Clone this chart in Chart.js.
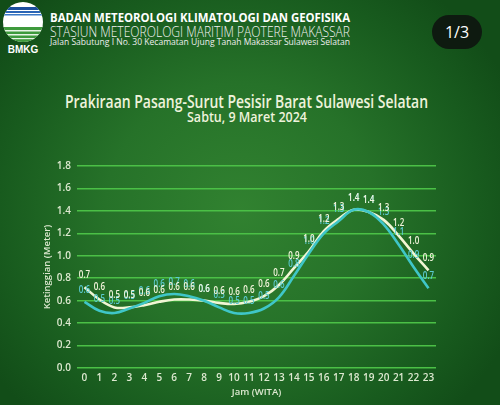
<!DOCTYPE html>
<html>
<head>
<meta charset="utf-8">
<script src="https://cdn.jsdelivr.net/npm/chart.js@4.4.1/dist/chart.umd.min.js"></script>
<style>
  html, body { margin: 0; padding: 0; }
  body {
    width: 500px; height: 405px; overflow: hidden; position: relative;
    background: radial-gradient(ellipse 60% 70% at 48% 52%, #318230 0%, #267229 45%, #185b1e 80%, #124d18 100%);
    font-family: "Open Sans", sans-serif;
  }
  .t { position: absolute; white-space: nowrap; transform-origin: 0 50%; line-height: 1; }
  #c { position: absolute; left: 0; top: 0; }
  #badge {
    position: absolute; left: 432px; top: 15px; width: 50px; height: 34px;
    border-radius: 17px; background: #0e1a10; color: #fff;
    font: 500 16px "Open Sans", sans-serif; display: flex; align-items: center; justify-content: center;
  }
</style>
</head>
<body>
<svg style="position:absolute;left:0;top:0" width="50" height="56">
  <defs><clipPath id="cp"><circle cx="23" cy="22" r="20"/></clipPath></defs>
  <g clip-path="url(#cp)">
    <rect x="0" y="0" width="50" height="50" fill="#ffffff"/>
    <rect x="0" y="7" width="50" height="3" fill="#1b4f9c"/>
    <rect x="0" y="11" width="50" height="2" fill="#2a64b5"/>
    <rect x="0" y="14" width="50" height="1.5" fill="#3a78c5"/>
    <rect x="0" y="26" width="50" height="20" fill="#3e9a3c"/>
    <path d="M3 26 Q12 21 20 25 Q28 21 43 26 L43 27 L3 27 Z" fill="#ffffff"/>
    <rect x="0" y="30" width="50" height="1.5" fill="#e8f4e6"/>
    <rect x="0" y="34" width="50" height="1.5" fill="#e8f4e6"/>
    <rect x="0" y="38" width="50" height="1.2" fill="#e8f4e6"/>
  </g>
  <text x="23" y="53" text-anchor="middle" font-family="Liberation Sans, Arial" font-weight="bold" font-size="10" fill="#ffffff">BMKG</text>
</svg>

<div class="t fit" data-w="300" style="left:50px;top:9px;font:700 12.5px 'Open Sans';color:#ffffff;">BADAN METEOROLOGI KLIMATOLOGI DAN GEOFISIKA</div>
<div class="t fit" data-w="300" style="left:50px;top:22px;font:300 14px 'Open Sans';color:#f2f2f2;">STASIUN METEOROLOGI MARITIM PAOTERE MAKASSAR</div>
<div class="t fit" data-w="300" style="left:50px;top:35px;font:400 9.5px 'Open Sans';color:#eeeeee;">Jalan Sabutung I No. 30 Kecamatan Ujung Tanah Makassar Sulawesi Selatan</div>
<div id="badge">1/3</div>

<div class="t fit" data-w="363" style="left:65px;top:89px;font:600 17.5px 'Open Sans';color:#eef3dc;">Prakiraan Pasang-Surut Pesisir Barat Sulawesi Selatan</div>
<div class="t fit" data-w="120" style="left:187px;top:107px;font:600 14px 'Open Sans';color:#eef3dc;">Sabtu, 9 Maret 2024</div>

<canvas id="c" width="500" height="405"></canvas>
<script>
// ---- data ----
const hours = ['0','1','2','3','4','5','6','7','8','9','10','11','12','13','14','15','16','17','18','19','20','21','22','23'];
const seriesWhite = [0.72,0.61,0.54,0.54,0.56,0.59,0.61,0.61,0.60,0.58,0.57,0.59,0.64,0.74,0.89,1.04,1.22,1.33,1.41,1.39,1.32,1.18,1.02,0.87];
const seriesCyan  = [0.59,0.51,0.49,0.53,0.58,0.64,0.66,0.64,0.60,0.54,0.49,0.49,0.53,0.63,0.82,1.02,1.20,1.31,1.41,1.39,1.28,1.10,0.90,0.71];
const yTicks = [0.0,0.2,0.4,0.6,0.8,1.0,1.2,1.4,1.6,1.8];
const yTitle = 'Ketinggian (Meter)';
const xTitle = 'Jam (WITA)';

// fit header text widths
document.querySelectorAll('.fit').forEach(el => {
  const w = el.getBoundingClientRect().width;
  const target = parseFloat(el.dataset.w);
  el.style.transform = 'scaleX(' + (target / w) + ')';
});

const WHITE = '#f1f6d4';
const CYAN = '#3fc6c8';
const WHITE_LBL = '#f3f5dc';
const CYAN_LBL = '#5ccbd3';
const AXIS = '#dde9d0';

const labelPlugin = {
  id: 'pointLabels',
  afterDatasetsDraw(chart) {
    const ctx = chart.ctx;
    [1, 0].forEach(di => {
      const ds = chart.data.datasets[di];
      const meta = chart.getDatasetMeta(di);
      meta.data.forEach((pt, i) => {
        ctx.save();
        ctx.translate(pt.x, pt.y - 12);
        ctx.scale(0.8, 1);
        ctx.font = '600 10px "Open Sans"';
        ctx.textAlign = 'center';
        ctx.textBaseline = 'middle';
        ctx.fillStyle = ds.labelColor;
        ctx.fillText(ds.data[i].toFixed(1), 0, 0);
        ctx.restore();
      });
    });
  }
};

new Chart(document.getElementById('c'), {
  type: 'line',
  data: {
    labels: hours,
    datasets: [
      { label: 'A', data: seriesWhite, borderColor: WHITE, labelColor: WHITE_LBL, borderWidth: 2.6, pointRadius: 0, tension: 0.4, fill: false, order: 1 },
      { label: 'B', data: seriesCyan, borderColor: CYAN, labelColor: CYAN_LBL, borderWidth: 2.6, pointRadius: 0, tension: 0.4, fill: false, order: 0 }
    ]
  },
  options: {
    responsive: false,
    animation: false,
    layout: { padding: { left: 42, right: 64, top: 166, bottom: 7 } },
    plugins: { legend: { display: false }, tooltip: { enabled: false }, title: { display: false } },
    scales: {
      x: {
        offset: true,
        grid: { display: false, drawTicks: false },
        border: { display: false },
        ticks: { color: AXIS, font: { family: 'Open Sans', size: 10, weight: '600' }, padding: 4, maxRotation: 0, autoSkip: false },
        title: { display: true, text: xTitle, color: AXIS, font: { family: 'Open Sans', size: 9.5, weight: '600' }, padding: 0 },
        afterFit(s) { s.height = 30; }
      },
      y: {
        min: 0, max: 1.8,
        afterBuildTicks(s) { s.ticks = yTicks.map(v => ({ value: v })); },
        grid: { color: '#4bc046', lineWidth: 1.5, drawTicks: false },
        border: { display: false },
        ticks: { color: AXIS, font: { family: 'Open Sans', size: 10, weight: '600' }, padding: 6, callback: v => Number(v).toFixed(1) },
        title: { display: true, text: yTitle, color: AXIS, font: { family: 'Open Sans', size: 9.5, weight: '600' }, padding: 0 },
        afterFit(s) { s.width = 35; }
      }
    }
  },
  plugins: [labelPlugin]
});
</script>
</body>
</html>
